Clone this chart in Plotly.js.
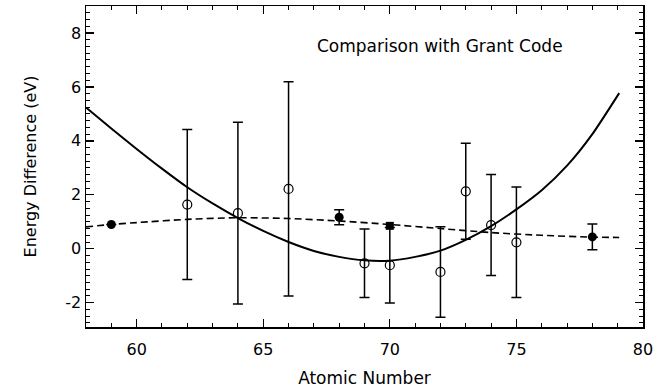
<!DOCTYPE html>
<html>
<head>
<meta charset="utf-8">
<script src="https://cdn.plot.ly/plotly-3.0.1.min.js"></script>
<style>html,body{margin:0;padding:0;background:#fff;}#chart{width:665px;height:391px;}</style>
</head>
<body>
<div id="chart"></div>
<script>
// Solid fit curve
const fitX = [58, 59, 60, 61, 62, 63, 64, 65, 66, 67, 68, 69, 70, 71, 72, 73, 74, 75, 76, 77, 78, 79.06];
const fitY = [5.24, 4.46, 3.7, 2.97, 2.28, 1.68, 1.14, 0.66, 0.25, -0.08, -0.3, -0.43, -0.44, -0.3, -0.07, 0.33, 0.84, 1.46, 2.17, 3.08, 4.25, 5.77];
// Dashed curve
const dashX = [58, 59, 60, 62, 64, 66, 68, 70, 72, 74, 76, 78, 79.06];
const dashY = [0.81, 0.9, 0.97, 1.09, 1.15, 1.12, 1.03, 0.9, 0.75, 0.6, 0.5, 0.43, 0.42];
// Open circles with error bars
const openX = [62, 64, 66, 69, 70, 72, 73, 74, 75];
const openY = [1.64, 1.32, 2.22, -0.54, -0.61, -0.86, 2.13, 0.88, 0.24];
const openErr = [2.78, 3.37, 3.97, 1.27, 1.4, 1.68, 1.78, 1.87, 2.05];
// Filled circles
const fillX = [59, 68, 78];
const fillY = [0.9, 1.17, 0.44];
const fillErr = [null, 0.28, 0.48];
// Filled square
const sqX = [70];
const sqY = [0.85];
// Tick values
const xTicks = [60, 65, 70, 75, 80];
const yTicks = [-2, 0, 2, 4, 6, 8];

const font = 'DejaVu Sans, Verdana, sans-serif';

const traces = [
  {x: fitX, y: fitY, mode: 'lines', line: {color: '#000', width: 2, shape: 'spline', smoothing: 0.6}, hoverinfo: 'skip'},
  {x: dashX, y: dashY, mode: 'lines', line: {color: '#000', width: 1.6, dash: '7px,4px', shape: 'spline', smoothing: 0.8}, hoverinfo: 'skip'},
  {x: openX, y: openY, mode: 'markers',
   marker: {symbol: 'circle-open', size: 9, color: '#000', line: {width: 1.2, color: '#000'}},
   error_y: {type: 'data', array: openErr, visible: true, color: '#000', thickness: 1.5, width: 5}},
  {x: fillX, y: fillY, mode: 'markers',
   marker: {symbol: 'circle', size: 9, color: '#000'},
   error_y: {type: 'data', array: fillErr, visible: true, color: '#000', thickness: 1.5, width: 5}},
  {x: sqX, y: sqY, mode: 'markers', marker: {symbol: 'square', size: 8, color: '#000'}}
];

const layout = {
  width: 665, height: 391,
  margin: {l: 86, r: 22, t: 6, b: 64},
  paper_bgcolor: '#fff', plot_bgcolor: '#fff',
  showlegend: false,
  font: {family: font, color: '#000', size: 16},
  xaxis: {
    range: [58, 80], tickvals: xTicks, ticktext: xTicks.map(String),
    ticks: 'inside', ticklen: 8, tickwidth: 1.3, tickcolor: '#000',
    minor: {dtick: 1, ticks: 'inside', ticklen: 4, tickwidth: 1, tickcolor: '#000', showgrid: false},
    showline: true, linecolor: '#000', linewidth: 1.5, mirror: 'ticks',
    showgrid: false, zeroline: false,
    tickfont: {family: font, size: 16, color: '#000'},
    ticklabelstandoff: 7,
    title: {text: 'Atomic Number', font: {family: font, size: 17, color: '#000'}, standoff: 14}
  },
  yaxis: {
    range: [-2.9, 9], tickvals: yTicks, ticktext: yTicks.map(String),
    ticks: 'inside', ticklen: 8, tickwidth: 1.3, tickcolor: '#000',
    minor: {dtick: 0.25, ticks: 'inside', ticklen: 4, tickwidth: 1, tickcolor: '#000', showgrid: false},
    showline: true, linecolor: '#000', linewidth: 1.5, mirror: 'ticks',
    showgrid: false, zeroline: false,
    tickfont: {family: font, size: 16, color: '#000'},
    ticklabelstandoff: 0,
    title: {text: 'Energy Difference (eV)', font: {family: font, size: 16, color: '#000'}, standoff: 24}
  },
  annotations: [{
    x: 72, y: 7.5, xref: 'x', yref: 'y', xanchor: 'center', yanchor: 'middle',
    text: 'Comparison with Grant Code', showarrow: false,
    font: {family: font, size: 17, color: '#000'}
  }]
};

Plotly.newPlot('chart', traces, layout, {staticPlot: true, displayModeBar: false});
</script>
</body>
</html>
